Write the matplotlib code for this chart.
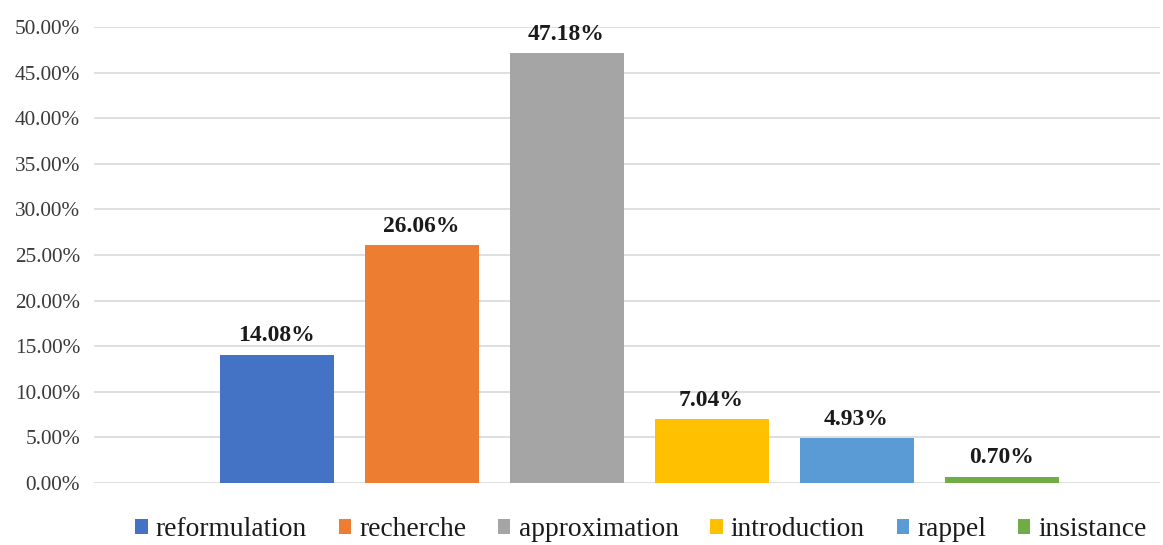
import matplotlib
matplotlib.use("Agg")
import matplotlib.pyplot as plt
from matplotlib.ticker import FuncFormatter, MultipleLocator
from matplotlib.patches import Patch

categories = ["reformulation", "recherche", "approximation", "introduction", "rappel", "insistance"]
values = [14.08, 26.06, 47.18, 7.04, 4.93, 0.70]
colors = ["#4472C4", "#ED7D31", "#A5A5A5", "#FFC000", "#5B9BD5", "#70AD47"]

plt.rcParams["font.family"] = ["Liberation Serif", "DejaVu Serif"]

fig = plt.figure(figsize=(11.63, 5.45), dpi=100)
ax = fig.add_axes([94 / 1163, 1 - 483 / 545, (1160 - 94) / 1163, (483 - 27) / 545])

x = list(range(len(categories)))
bars = ax.bar(x, values, width=0.786, color=colors, zorder=3)

for xi, v in zip(x, values):
    ax.text(xi, v + 0.9, f"{v:.2f}%", ha="center", va="bottom",
            fontsize=17, fontweight="bold", color="#1a1a1a")

ax.set_xlim(-1.259, 6.093)
ax.set_ylim(0, 50)
ax.yaxis.set_major_locator(MultipleLocator(5))
ax.yaxis.set_major_formatter(FuncFormatter(lambda v, p: f"{v:.2f}%"))
ax.tick_params(axis="y", length=0, labelsize=15.3, colors="#3a3a3a", pad=10)
ax.set_xticks([])
ax.grid(axis="y", color="#d9d9d9", linewidth=1.2, zorder=0)
for s in ax.spines.values():
    s.set_visible(False)

handles = [Patch(facecolor=c, label=l) for c, l in zip(colors, categories)]
fig.legend(handles=handles, loc="center", bbox_to_anchor=(641 / 1163, 1 - 530 / 545),
           ncol=6, frameon=False, fontsize=19.8, handlelength=0.45, handleheight=0.45,
           handletextpad=0.3, columnspacing=1.15, labelcolor="#1a1a1a",
           borderpad=0, borderaxespad=0)

fig.savefig("out.png", dpi=100)
